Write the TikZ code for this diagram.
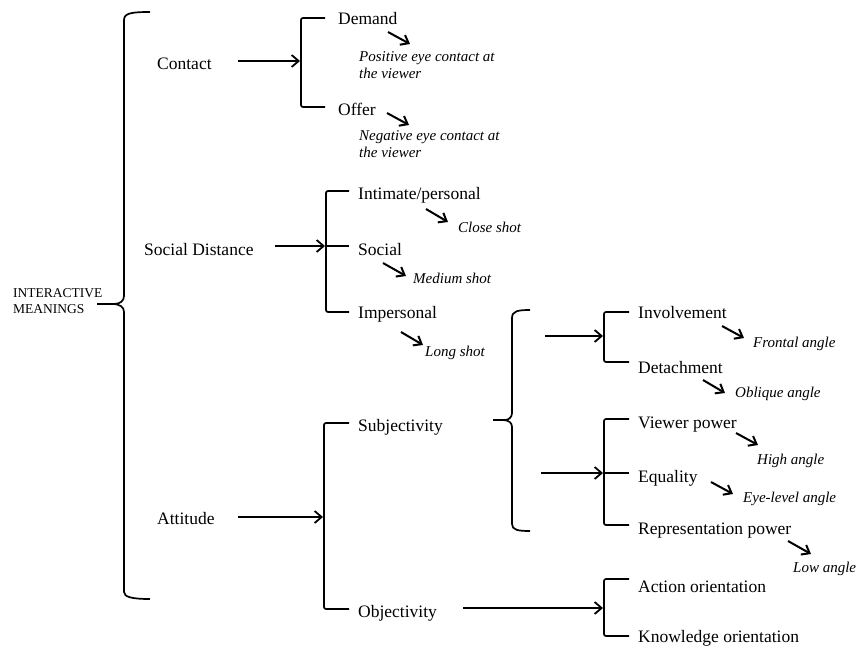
\documentclass[tikz,border=0pt]{standalone}
\usepackage{fontspec}
\setmainfont{Liberation Serif}
\usetikzlibrary{arrows.meta}
\tikzset{
  lbl/.style={anchor=base west,inner sep=0pt,font=\fontsize{17.5}{20}\selectfont},
  note/.style={anchor=base west,inner sep=0pt,align=left,font=\fontsize{15}{16.5}\selectfont\itshape},
  brk/.style={line width=1.7pt,rounded corners=2pt},
  barb/.style={line width=1.8pt,-{Straight Barb[length=7pt,width=12pt]}},
  smallbarb/.style={line width=2pt,-{Straight Barb[length=7pt,width=11pt]}},
}
\begin{document}
\begin{tikzpicture}[x=1pt,y=-1pt]
\useasboundingbox (0,0) rectangle (860,648);
\node[lbl,align=left,font=\fontsize{13.5}{16}\selectfont] (im) at (13,313) {INTERACTIVE\\MEANINGS};
\draw[brk] (150,12) .. controls (132,12) and (124,13) .. (124,22) -- (124,294)
	.. controls (124,301) and (120,304) .. (112,304) -- (97,304);
\draw[brk] (112,304) .. controls (120,304) and (124,307) .. (124,314) -- (124,590)
	.. controls (124,597) and (132,599) .. (150,599);

\node[lbl] (contact) at (157,69) {Contact};
\node[lbl] (demand) at (338,24) {Demand};
\node[lbl] (offer) at (338,115) {Offer};
\node[note] (demand-note) at (359,78) {Positive eye contact at\\the viewer};
\node[note] (offer-note) at (359,157) {Negative eye contact at\\the viewer};
\draw[brk] (325,18) -- (301,18) -- (301,107) -- (325,107);
\coordinate (contact-out) at (238,61);
\coordinate (contact-in) at (300,61);
\draw[barb] (contact-out) -- (contact-in);

\node[lbl] (social-distance) at (144,255) {Social Distance};
\node[lbl] (intimate) at (358,199) {Intimate/personal};
\node[lbl] (social) at (358,255) {Social};
\node[lbl] (impersonal) at (358,318) {Impersonal};
\node[note] (intimate-note) at (458,232) {Close shot};
\node[note] (social-note) at (413,283) {Medium shot};
\node[note] (impersonal-note) at (425,356) {Long shot};
\draw[brk] (349,191) -- (326,191) -- (326,312) -- (349,312);
\draw[brk] (326,246) -- (349,246);
\coordinate (distance-out) at (275,246);
\coordinate (distance-in) at (325,246);
\draw[barb] (distance-out) -- (distance-in);

\node[lbl] (attitude) at (157,524) {Attitude};
\node[lbl] (subjectivity) at (358,431) {Subjectivity};
\node[lbl] (objectivity) at (358,617) {Objectivity};
\draw[brk] (349,423) -- (324,423) -- (324,609) -- (349,609);
\coordinate (attitude-out) at (238,517);
\coordinate (attitude-in) at (323,517);
\draw[barb] (attitude-out) -- (attitude-in);

\draw[brk] (530,310) .. controls (518,310) and (512,311) .. (512,320) -- (512,411)
	.. controls (512,417) and (509,420) .. (503,420) -- (493,420);
\draw[brk] (503,420) .. controls (509,420) and (512,423) .. (512,429) -- (512,522)
	.. controls (512,530) and (518,531) .. (530,531);

\node[lbl] (involvement) at (638,318) {Involvement};
\node[lbl] (detachment) at (638,373) {Detachment};
\node[note] (involvement-note) at (753,347) {Frontal angle};
\node[note] (detachment-note) at (735,397) {Oblique angle};
\draw[brk] (629,312) -- (604,312) -- (604,362) -- (629,362);
\coordinate (upper-out) at (545,336);
\coordinate (upper-in) at (603,336);
\draw[barb] (upper-out) -- (upper-in);

\node[lbl] (viewer) at (638,428) {Viewer power};
\node[lbl] (equality) at (638,482) {Equality};
\node[lbl] (representation) at (638,534) {Representation power};
\node[note] (viewer-note) at (757,464) {High angle};
\node[note] (equality-note) at (743,502) {Eye-level angle};
\node[note] (representation-note) at (793,572) {Low angle};
\draw[brk] (629,419) -- (604,419) -- (604,525) -- (629,525);
\draw[brk] (604,473) -- (629,473);
\coordinate (lower-out) at (541,473);
\coordinate (lower-in) at (603,473);
\draw[barb] (lower-out) -- (lower-in);

\node[lbl] (action) at (638,592) {Action orientation};
\node[lbl] (knowledge) at (638,642) {Knowledge orientation};
\draw[brk] (629,579) -- (604,579) -- (604,636) -- (629,636);
\coordinate (objectivity-out) at (463,608);
\coordinate (objectivity-in) at (603,608);
\draw[barb] (objectivity-out) -- (objectivity-in);

\foreach \n/\xa/\ya/\xb/\yb in {demand/388/32/410/44,offer/387/113/409/125,
	intimate/426/209/448/222,social/383/263/406/276,impersonal/401/332/423/345,
	involvement/722/326/744/338,detachment/703/380/725/393,viewer/736/433/758/445,
	equality/711/482/733/494,representation/788/541/811/554}{
	\coordinate (\n-s) at (\xa,\ya);
	\coordinate (\n-t) at (\xb,\yb);
	\draw[smallbarb] (\n-s) -- (\n-t);
}
\end{tikzpicture}
\end{document}
